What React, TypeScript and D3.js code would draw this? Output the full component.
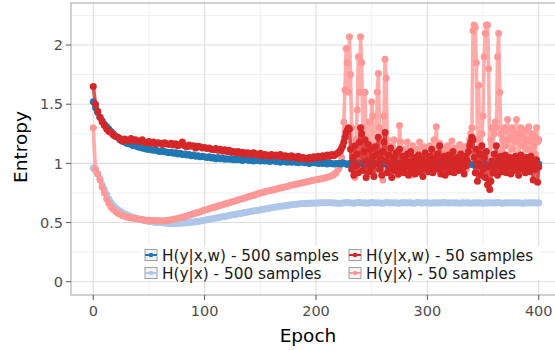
import React from "react";
import * as d3 from "d3";

// Epochs: the 500-sample runs are sampled every 2 epochs;
// the 50-sample runs every 2 epochs up to 218, then every epoch.
const epochsCoarse: number[] = d3.range(0, 401, 2);
const epochsFine: number[] = [...d3.range(0, 220, 2), ...d3.range(220, 401)];

const seriesNames = [
  "H(y|x,w) - 500 samples",
  "H(y|x,w) - 50 samples",
  "H(y|x) - 500 samples",
  "H(y|x) - 50 samples",
];

const cwValues500 = [
  1.52, 1.47, 1.43, 1.39, 1.36, 1.33, 1.31, 1.29, 1.27, 1.25,
  1.23, 1.22, 1.20, 1.19, 1.18, 1.17, 1.165, 1.16, 1.15, 1.15,
  1.14, 1.135, 1.13, 1.125, 1.12, 1.12, 1.115, 1.11, 1.115, 1.105,
  1.10, 1.105, 1.10, 1.095, 1.09, 1.095, 1.085, 1.09, 1.08, 1.085,
  1.075, 1.08, 1.07, 1.075, 1.065, 1.07, 1.06, 1.065, 1.055, 1.06,
  1.055, 1.05, 1.055, 1.045, 1.05, 1.04, 1.05, 1.04, 1.045, 1.035,
  1.04, 1.035, 1.04, 1.03, 1.04, 1.03, 1.035, 1.025, 1.035, 1.03,
  1.025, 1.03, 1.02, 1.03, 1.025, 1.02, 1.03, 1.02, 1.025, 1.015,
  1.02, 1.025, 1.015, 1.02, 1.01, 1.02, 1.015, 1.01, 1.02, 1.01,
  1.015, 1.01, 1.005, 1.015, 1.01, 1.005, 1.01, 1.0, 1.01, 1.005,
  1.01, 1.0, 1.005, 1.0, 1.01, 0.995, 1.005, 1.0, 0.995, 1.0,
  1.0, 0.995, 1.005, 1.0, 0.99, 1.0, 1.005, 0.995, 1.0, 0.99,
  1.0, 1.005, 0.99, 1.0, 0.995, 1.005, 0.99, 1.0, 0.995, 1.0,
  1.005, 0.995, 1.0, 0.99, 1.0, 1.005, 0.995, 1.0, 0.99, 1.0,
  0.995, 1.005, 1.0, 0.99, 1.0, 0.995, 1.005, 1.0, 0.99, 1.0,
  1.0, 0.995, 1.005, 0.99, 1.0, 0.995, 1.0, 1.005, 0.99, 1.0,
  0.995, 1.0, 1.005, 0.99, 1.0, 0.995, 1.0, 0.99, 1.005, 0.995,
  0.99, 0.985, 0.995, 0.98, 0.99, 0.985, 0.995, 0.98, 0.99, 0.995,
  1.0, 0.99, 1.005, 0.995, 1.0, 0.99, 1.0, 1.005, 0.995, 1.0,
  0.99, 1.0, 1.005, 0.995, 1.0, 0.99, 1.0, 0.995, 1.005, 1.0,
  0.995,
];

const cwValues50 = [
  // epochs 0..218 (step 2)
  1.65, 1.50, 1.44, 1.39, 1.35, 1.32, 1.29, 1.27, 1.26, 1.24,
  1.23, 1.22, 1.21, 1.19, 1.205, 1.20, 1.19, 1.21, 1.195, 1.20,
  1.185, 1.19, 1.20, 1.18, 1.175, 1.185, 1.17, 1.18, 1.165, 1.175,
  1.17, 1.16, 1.175, 1.165, 1.16, 1.17, 1.155, 1.165, 1.15, 1.16,
  1.18, 1.15, 1.14, 1.155, 1.145, 1.15, 1.13, 1.145, 1.14, 1.13,
  1.135, 1.125, 1.13, 1.12, 1.115, 1.125, 1.11, 1.12, 1.105, 1.115,
  1.10, 1.11, 1.095, 1.10, 1.09, 1.10, 1.085, 1.095, 1.08, 1.09,
  1.085, 1.075, 1.09, 1.08, 1.07, 1.085, 1.065, 1.075, 1.07, 1.06,
  1.075, 1.065, 1.07, 1.06, 1.075, 1.055, 1.065, 1.06, 1.05, 1.065,
  1.055, 1.045, 1.06, 1.04, 1.05, 1.045, 1.035, 1.05, 1.04, 1.055,
  1.045, 1.06, 1.05, 1.065, 1.055, 1.07, 1.06, 1.075, 1.065, 1.08,
  // epochs 220..400 (step 1)
  1.09, 1.10, 1.11, 1.13, 1.15, 1.18, 1.22, 1.26, 1.28, 1.30,
  1.29, 1.12, 0.95, 1.05, 0.90, 1.15, 0.98, 1.08, 0.92, 1.18,
  1.30, 1.25, 0.94, 1.10, 1.20, 0.88, 1.02, 1.16, 0.93, 1.12,
  0.97, 1.06, 0.89, 1.14, 1.00, 1.08, 1.22, 0.95, 1.04, 0.90,
  1.10, 1.18, 1.26, 1.02, 0.92, 1.07, 0.96, 1.13, 0.88, 1.01,
  1.05, 0.94, 1.09, 0.98, 0.91, 1.12, 1.00, 0.95, 1.06, 0.92,
  1.03, 0.97, 1.08, 0.90, 1.01, 1.10, 0.94, 0.99, 1.05, 0.91,
  1.02, 0.96, 1.07, 0.93, 1.00, 1.04, 0.89, 0.98, 1.09, 0.95,
  1.01, 0.93, 1.06, 0.97, 1.12, 0.92, 1.00, 1.04, 0.95, 1.08,
  0.97, 1.15, 0.91, 1.03, 0.96, 1.06, 0.90, 1.01, 0.98, 1.07,
  0.93, 1.04, 0.97, 1.10, 0.92, 1.02, 0.96, 1.05, 0.94, 1.00,
  1.08, 0.95, 1.03, 0.91, 1.06, 0.98, 1.02, 1.10, 1.15, 1.18,
  1.22, 1.20, 1.05, 0.92, 1.12, 0.85, 1.00, 1.08, 0.90, 1.15,
  0.95, 1.05, 0.88, 1.10, 0.82, 0.97, 0.78, 0.85, 1.02, 0.92,
  1.08, 0.96, 1.15, 0.90, 1.04, 0.98, 1.06, 0.93, 1.01, 0.95,
  1.07, 0.92, 1.02, 0.97, 1.05, 0.91, 1.03, 0.99, 0.94, 1.06,
  0.96, 1.04, 0.90, 1.01, 1.07, 0.95, 0.99, 1.03, 0.92, 1.05,
  0.97, 1.02, 0.93, 1.06, 0.98, 0.86, 1.01, 0.95, 1.03, 0.84,
  0.97,
];

const cValues500 = [
  0.96, 0.94, 0.91, 0.87, 0.82, 0.78, 0.74, 0.70, 0.67, 0.645,
  0.625, 0.61, 0.595, 0.585, 0.575, 0.565, 0.557, 0.55, 0.544, 0.538,
  0.532, 0.527, 0.522, 0.518, 0.514, 0.51, 0.508, 0.505, 0.503, 0.50,
  0.50, 0.498, 0.496, 0.495, 0.494, 0.493, 0.494, 0.493, 0.495, 0.494,
  0.496, 0.497, 0.499, 0.50, 0.502, 0.505, 0.507, 0.51, 0.513, 0.516,
  0.52, 0.523, 0.527, 0.53, 0.534, 0.538, 0.541, 0.545, 0.549, 0.552,
  0.555, 0.559, 0.563, 0.566, 0.57, 0.574, 0.577, 0.581, 0.585, 0.588,
  0.592, 0.595, 0.598, 0.602, 0.605, 0.608, 0.612, 0.615, 0.618, 0.621,
  0.625, 0.628, 0.631, 0.634, 0.637, 0.64, 0.643, 0.645, 0.648, 0.65,
  0.652, 0.654, 0.656, 0.658, 0.66, 0.661, 0.662, 0.663, 0.664, 0.665,
  0.666, 0.666, 0.667, 0.667, 0.668, 0.667, 0.668, 0.667, 0.666, 0.665,
  0.664, 0.663, 0.665, 0.667, 0.669, 0.668, 0.666, 0.664, 0.667, 0.669,
  0.668, 0.665, 0.667, 0.664, 0.666, 0.669, 0.667, 0.665, 0.668, 0.666,
  0.664, 0.667, 0.669, 0.666, 0.668, 0.665, 0.667, 0.663, 0.666, 0.668,
  0.667, 0.665, 0.668, 0.666, 0.664, 0.667, 0.669, 0.666, 0.665, 0.667,
  0.668, 0.666, 0.664, 0.667, 0.665, 0.668, 0.666, 0.669, 0.667, 0.665,
  0.666, 0.668, 0.665, 0.667, 0.664, 0.666, 0.668, 0.665, 0.667, 0.666,
  0.664, 0.667, 0.665, 0.668, 0.666, 0.664, 0.667, 0.665, 0.668, 0.666,
  0.665, 0.667, 0.669, 0.666, 0.664, 0.667, 0.665, 0.668, 0.666, 0.667,
  0.665, 0.668, 0.666, 0.664, 0.667, 0.665, 0.668, 0.666, 0.667, 0.665,
  0.668,
];

const cValues50 = [
  // epochs 0..218 (step 2)
  1.30, 0.95, 0.91, 0.86, 0.80, 0.75, 0.70, 0.66, 0.63, 0.61,
  0.595, 0.58, 0.57, 0.56, 0.553, 0.547, 0.543, 0.54, 0.535, 0.532,
  0.53, 0.527, 0.525, 0.522, 0.52, 0.52, 0.518, 0.517, 0.516, 0.515,
  0.515, 0.514, 0.515, 0.517, 0.52, 0.523, 0.527, 0.531, 0.536, 0.54,
  0.545, 0.55, 0.556, 0.562, 0.568, 0.574, 0.58, 0.586, 0.592, 0.599,
  0.606, 0.611, 0.617, 0.622, 0.628, 0.634, 0.639, 0.645, 0.65, 0.656,
  0.662, 0.668, 0.673, 0.679, 0.684, 0.69, 0.696, 0.702, 0.708, 0.714,
  0.72, 0.726, 0.731, 0.737, 0.743, 0.749, 0.755, 0.76, 0.764, 0.769,
  0.773, 0.778, 0.782, 0.787, 0.791, 0.796, 0.80, 0.805, 0.81, 0.815,
  0.819, 0.824, 0.828, 0.833, 0.837, 0.841, 0.845, 0.849, 0.853, 0.857,
  0.861, 0.865, 0.869, 0.873, 0.877, 0.882, 0.888, 0.895, 0.905, 0.92,
  // epochs 220..400 (step 1)
  0.95, 0.97, 1.00, 1.05, 1.15, 1.35, 1.62, 1.97, 1.85, 1.60,
  2.07, 1.75, 1.30, 0.95, 1.10, 0.88, 1.20, 1.45, 1.90, 1.60,
  2.07, 1.85, 1.30, 1.05, 1.60, 1.20, 0.90, 1.10, 1.35, 1.00,
  1.52, 1.40, 0.92, 1.15, 1.05, 1.60, 1.76, 1.30, 0.95, 1.10,
  0.86, 1.40, 1.88, 1.72, 1.20, 0.95, 1.08, 1.15, 0.92, 1.05,
  1.20, 0.98, 1.10, 0.90, 1.02, 1.32, 1.18, 0.95, 1.10, 1.00,
  1.12, 0.93, 1.18, 1.02, 0.96, 1.08, 0.90, 1.15, 1.00, 1.05,
  0.94, 1.12, 1.00, 1.18, 0.92, 1.06, 0.97, 1.14, 1.02, 0.95,
  1.08, 1.00, 1.15, 0.93, 1.05, 0.98, 1.20, 1.02, 1.31, 1.10,
  0.96, 1.17, 1.04, 0.94, 1.12, 1.00, 1.08, 0.92, 1.15, 1.03,
  1.10, 0.97, 1.19, 1.05, 0.95, 1.13, 1.02, 1.08, 0.96, 1.16,
  1.06, 0.99, 1.14, 1.02, 1.10, 0.95, 1.15, 1.08, 1.20, 1.25,
  1.30, 2.12, 2.17, 2.15, 1.85, 1.20, 1.66, 1.15, 1.05, 1.25,
  1.40, 1.90, 2.10, 2.17, 2.17, 1.80, 1.00, 1.20, 1.30, 1.15,
  1.25, 1.35, 1.30, 1.90, 2.10, 1.60, 1.25, 1.10, 1.20, 1.30,
  1.15, 1.28, 1.37, 1.20, 1.05, 1.22, 1.30, 1.12, 1.25, 1.18,
  1.37, 1.20, 1.08, 1.25, 1.30, 1.15, 1.22, 1.05, 1.28, 1.18,
  1.12, 1.31, 1.20, 1.10, 1.25, 1.15, 1.22, 1.08, 1.30, 1.18,
  1.20,
];

const xMajorTicks = [0, 100, 200, 300, 400];
const xMinorTicks = [50, 150, 250, 350];
const yMajorTicks = [0, 0.5, 1, 1.5, 2];
const yMinorTicks = [0.25, 0.75, 1.25, 1.75, 2.25];
const yTickLabels = ["0", "0.5", "1", "1.5", "2"];

const colors: Record<string, string> = {
  "H(y|x,w) - 500 samples": "#1f77b4",
  "H(y|x,w) - 50 samples": "#d62728",
  "H(y|x) - 500 samples": "#aec7e8",
  "H(y|x) - 50 samples": "#ff9896",
};

const FONT = "'DejaVu Sans', Verdana, sans-serif";

export default function App() {
  const W = 555, H = 350;
  const left = 71, right = 561, top = 3, bottom = 295;
  const x = d3.scaleLinear().domain([-20, 420]).range([left, right]);
  const y = d3.scaleLinear().domain([-0.112, 2.355]).range([bottom, top]);

  const seriesData: Record<string, { xs: number[]; vals: number[] }> = {
    [seriesNames[0]]: { xs: epochsCoarse, vals: cwValues500 },
    [seriesNames[1]]: { xs: epochsFine, vals: cwValues50 },
    [seriesNames[2]]: { xs: epochsCoarse, vals: cValues500 },
    [seriesNames[3]]: { xs: epochsFine, vals: cValues50 },
  };
  const drawOrder = [seriesNames[2], seriesNames[3], seriesNames[0], seriesNames[1]];

  const legendItems = [
    { name: seriesNames[0], kx: 145, ty: 255 },
    { name: seriesNames[2], kx: 145, ty: 273 },
    { name: seriesNames[1], kx: 349, ty: 255 },
    { name: seriesNames[3], kx: 349, ty: 273 },
  ];

  return (
    <svg
      width={W}
      height={H}
      style={{ position: "absolute", left: 0, top: 0, display: "block", background: "#fff" }}
      fontFamily={FONT}
    >
      <rect x={0} y={0} width={W} height={H} fill="#fff" />
      {/* grid */}
      {yMinorTicks.map((t) => (
        <line key={"ym" + t} x1={left} x2={right} y1={y(t)} y2={y(t)} stroke="#efefef" strokeWidth={1} />
      ))}
      {xMinorTicks.map((t) => (
        <line key={"xm" + t} x1={x(t)} x2={x(t)} y1={top} y2={bottom} stroke="#efefef" strokeWidth={1} />
      ))}
      {yMajorTicks.map((t) => (
        <line key={"yM" + t} x1={left} x2={right} y1={y(t)} y2={y(t)} stroke="#dedede" strokeWidth={1.1} />
      ))}
      {xMajorTicks.map((t) => (
        <line key={"xM" + t} x1={x(t)} x2={x(t)} y1={top} y2={bottom} stroke="#dedede" strokeWidth={1.1} />
      ))}

      {/* series */}
      {drawOrder.map((name) => {
        const { xs, vals } = seriesData[name];
        const c = colors[name];
        const line = d3
          .line<number>()
          .x((_, i) => x(xs[i]))
          .y((v) => y(v));
        return (
          <g key={name}>
            <path d={line(vals) || ""} fill="none" stroke={c} strokeWidth={3.6} strokeOpacity={0.8} strokeLinejoin="round" />
            {vals.map((v, i) => (
              <circle key={i} cx={x(xs[i])} cy={y(v)} r={3.5} fill={c} />
            ))}
          </g>
        );
      })}

      {/* legend */}
      <rect x={141} y={246} width={400} height={34} fill="#fff" />
      {legendItems.map((it) => (
        <g key={it.name}>
          <rect x={it.kx} y={it.ty - 5.5} width={12} height={11} fill="#f2f2f2" stroke="#a0a0a0" strokeWidth={1} />
          <line x1={it.kx} x2={it.kx + 12} y1={it.ty} y2={it.ty} stroke={colors[it.name]} strokeWidth={2} />
          <circle cx={it.kx + 6} cy={it.ty} r={2.3} fill={colors[it.name]} />
          <text x={it.kx + 17} y={it.ty} dy="0.36em" fontSize={15.3} fill="#1a1a1a">
            {it.name}
          </text>
        </g>
      ))}

      {/* panel border */}
      <rect x={left} y={top} width={right - left} height={bottom - top} fill="none" stroke="#b3b3b3" strokeWidth={1.2} />

      {/* y axis ticks */}
      {yMajorTicks.map((t, i) => (
        <g key={"yt" + t}>
          <line x1={left - 5} x2={left} y1={y(t)} y2={y(t)} stroke="#555" strokeWidth={1} />
          <text x={left - 8} y={y(t)} dy="0.36em" textAnchor="end" fontSize={14.5} fill="#4d4d4d">
            {yTickLabels[i]}
          </text>
        </g>
      ))}
      {/* x axis ticks */}
      {xMajorTicks.map((t) => (
        <g key={"xt" + t}>
          <line x1={x(t)} x2={x(t)} y1={bottom} y2={bottom + 5} stroke="#555" strokeWidth={1} />
          <text x={x(t)} y={316} textAnchor="middle" fontSize={14.5} fill="#4d4d4d">
            {t}
          </text>
        </g>
      ))}

      <text x={308} y={342} textAnchor="middle" fontSize={18.5} fill="#000">
        Epoch
      </text>
      <text transform="translate(26.5,147) rotate(-90)" textAnchor="middle" fontSize={18.5} fill="#000">
        Entropy
      </text>
    </svg>
  );
}
